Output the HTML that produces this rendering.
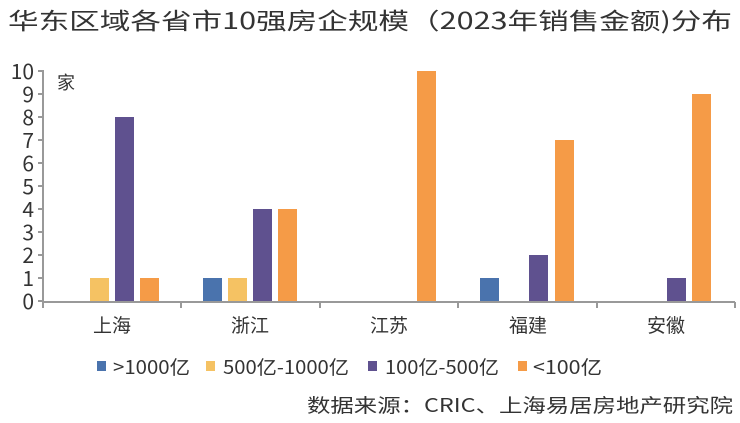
<!DOCTYPE html><html><head><meta charset="utf-8"><style>body{margin:0;background:#fff}svg{display:block}text{font-family:"Noto Sans CJK SC","Liberation Sans",sans-serif;fill:#333}</style></head><body>
<svg width="740" height="423" viewBox="0 0 740 423">
<text x="8" y="29" font-size="23" textLength="724" lengthAdjust="spacingAndGlyphs" fill="#222">华东区域各省市10强房企规模（2023年销售金额)分布</text>
<g stroke="#999" stroke-width="2" fill="none">
<path d="M43 70V302H735"/>
<path d="M38 71H43M38 94H43M38 117H43M38 140H43M38 163H43M38 186H43M38 209H43M38 232H43M38 255H43M38 278H43M38 301H43"/>
<path d="M43 302v6M181 302v6M320 302v6M458 302v6M597 302v6M735 302v6"/>
</g>
<g font-size="21" text-anchor="end" fill="#333">
<text x="34" y="79">10</text><text x="34" y="102">9</text><text x="34" y="125">8</text><text x="34" y="148">7</text><text x="34" y="171">6</text><text x="34" y="194">5</text><text x="34" y="217">4</text><text x="34" y="240">3</text><text x="34" y="263">2</text><text x="34" y="286">1</text><text x="34" y="309">0</text>
</g>
<text x="57" y="89" font-size="18">家</text>
<g>
<rect x="90" y="278" width="19" height="23" fill="#f5c263"/>
<rect x="115" y="117" width="19" height="184" fill="#5f518f"/>
<rect x="140" y="278" width="19" height="23" fill="#f59b47"/>
<rect x="203" y="278" width="19" height="23" fill="#4a73ad"/>
<rect x="228" y="278" width="19" height="23" fill="#f5c263"/>
<rect x="253" y="209" width="19" height="92" fill="#5f518f"/>
<rect x="278" y="209" width="19" height="92" fill="#f59b47"/>
<rect x="417" y="71" width="19" height="230" fill="#f59b47"/>
<rect x="480" y="278" width="19" height="23" fill="#4a73ad"/>
<rect x="529" y="255" width="19" height="46" fill="#5f518f"/>
<rect x="555" y="140" width="19" height="161" fill="#f59b47"/>
<rect x="667" y="278" width="19" height="23" fill="#5f518f"/>
<rect x="692" y="94" width="19" height="207" fill="#f59b47"/>
</g>
<g font-size="19" text-anchor="middle">
<text x="112" y="332">上海</text><text x="250" y="332">浙江</text><text x="389" y="332">江苏</text><text x="528" y="332">福建</text><text x="666" y="332">安徽</text>
</g>
<g font-size="19">
<rect x="97" y="361" width="9" height="10" fill="#4a73ad"/><text x="113" y="374" textLength="77" lengthAdjust="spacingAndGlyphs">&gt;1000亿</text>
<rect x="206" y="361" width="9" height="10" fill="#f5c263"/><text x="223" y="374" textLength="126" lengthAdjust="spacingAndGlyphs">500亿-1000亿</text>
<rect x="368" y="361" width="9" height="10" fill="#5f518f"/><text x="385" y="374" textLength="114" lengthAdjust="spacingAndGlyphs">100亿-500亿</text>
<rect x="518" y="361" width="9" height="10" fill="#f59b47"/><text x="533" y="374" textLength="69" lengthAdjust="spacingAndGlyphs">&lt;100亿</text>
</g>
<text x="307" y="412" font-size="19" textLength="426" lengthAdjust="spacingAndGlyphs">数据来源：CRIC、上海易居房地产研究院</text>
</svg></body></html>
